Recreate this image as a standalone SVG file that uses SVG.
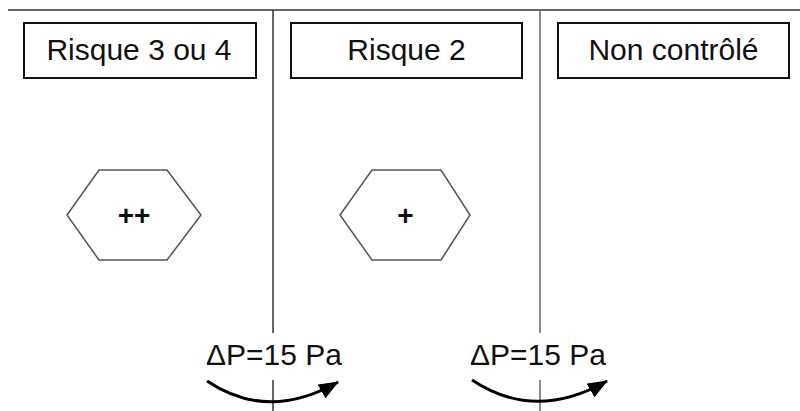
<svg xmlns="http://www.w3.org/2000/svg" width="800" height="411" viewBox="0 0 800 411">
<style>
.box{fill:#fff;stroke:#111;stroke-width:2}
.hex{fill:#fff;stroke:#555;stroke-width:1.5}
.sep{stroke:#333;stroke-width:1.5;fill:none}
.lbl{font-family:"Liberation Sans",Arial,sans-serif;font-size:30px;fill:#111;text-anchor:middle}
.sym{font-family:"Liberation Sans",Arial,sans-serif;font-size:28px;font-weight:bold;fill:#111;text-anchor:middle}
.arc{fill:none;stroke:#000;stroke-width:3}
</style>
<defs>
<marker id="ah" viewBox="0 0 20 16" refX="19" refY="8" markerWidth="20" markerHeight="16" markerUnits="userSpaceOnUse" orient="auto">
<path d="M0,0 L20,8 L0,16 z" fill="#000"/>
</marker>
</defs>
<rect width="800" height="411" fill="#fff"/>
<g id="separators">
<line class="sep" x1="8" y1="10" x2="800" y2="10" style="stroke:#666;stroke-width:2"/>
<line class="sep" x1="273" y1="10" x2="273" y2="333"/>
<line class="sep" x1="273" y1="380" x2="273" y2="411"/>
<line class="sep" x1="540" y1="10" x2="540" y2="333" style="stroke:#666"/>
<line class="sep" x1="540" y1="380" x2="540" y2="411" style="stroke:#666"/>
</g>
<g id="zone1">
<rect class="box" x="24" y="23" width="232" height="55"/>
<text class="lbl" x="139" y="60">Risque 3 ou 4</text>
</g>
<g id="zone2">
<rect class="box" x="291" y="23" width="231" height="55"/>
<text class="lbl" x="406.5" y="60">Risque 2</text>
</g>
<g id="zone3">
<rect class="box" x="558" y="23" width="231" height="55"/>
<text class="lbl" x="673.5" y="60">Non contrôlé</text>
</g>
<g id="hex1">
<polygon class="hex" points="67,215 99,170 167,170 201,215 167,260 99,260"/>
<text class="sym" x="134" y="225">++</text>
</g>
<g id="hex2">
<polygon class="hex" points="340,215 372,170 441,170 470,215 441,260 372,260"/>
<text class="sym" x="405.5" y="225">+</text>
</g>
<g id="connectors">
<path class="arc" d="M207,381 Q268,422 338,382" marker-end="url(#ah)"/>
<path class="arc" d="M472,380 Q535,422 607,381" marker-end="url(#ah)"/>
</g>
<g id="labels">
<text class="lbl" x="274" y="365">ΔP=15 Pa</text>
<text class="lbl" x="538" y="365">ΔP=15 Pa</text>
</g>
</svg>
